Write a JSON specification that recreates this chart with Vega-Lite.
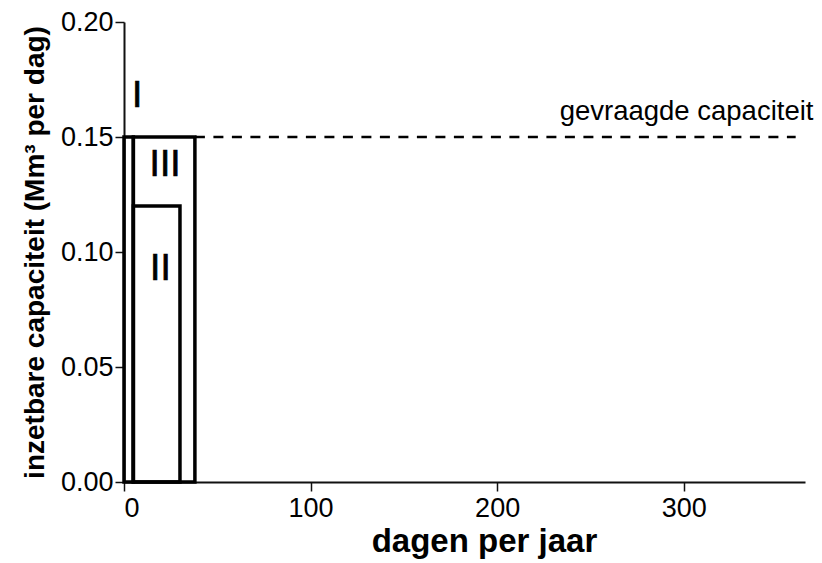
{
  "$schema": "https://vega.github.io/schema/vega-lite/v6.json",
  "width": 681,
  "height": 460,
  "autosize": {"type": "none"},
  "padding": {"left": 124, "top": 22, "right": 17, "bottom": 81},
  "background": "white",
  "config": {
    "view": {"stroke": null},
    "font": "Liberation Sans",
    "axis": {
      "grid": false,
      "domainColor": "#111",
      "domainWidth": 2,
      "tickColor": "#111",
      "tickWidth": 1.5,
      "tickSize": 9,
      "labelFont": "Liberation Sans",
      "labelFontSize": 27,
      "labelColor": "black",
      "titleFont": "Liberation Sans",
      "titleFontWeight": "bold",
      "titleColor": "black"
    }
  },
  "datasets": {
    "blocks": [
      {"blok": "III", "x0": 5, "x1": 38, "y0": 0, "y1": 0.15},
      {"blok": "II", "x0": 5, "x1": 30, "y0": 0, "y1": 0.12},
      {"blok": "I", "x0": 0, "x1": 5, "y0": 0, "y1": 0.15}
    ],
    "labels": [
      {"tekst": "I", "x": 7, "y": 0.168},
      {"tekst": "III", "x": 22, "y": 0.138},
      {"tekst": "II", "x": 19.5, "y": 0.0925}
    ],
    "demand": [
      {"x0": 38, "x1": 360, "y": 0.15, "tekst": "gevraagde capaciteit", "tx": 233.5, "ty": 0.1574}
    ]
  },
  "layer": [
    {
      "data": {"name": "blocks"},
      "mark": {"type": "rect", "fill": null, "fillOpacity": 0, "stroke": "black", "strokeWidth": 3.5, "clip": false},
      "encoding": {
        "x": {
          "field": "x0", "type": "quantitative",
          "scale": {"domain": [0, 365], "nice": false, "zero": true},
          "axis": {"values": [0, 100, 200, 300], "title": "dagen per jaar", "titleFontSize": 33, "titleX": 360, "titlePadding": 4, "labelPadding": 4}
        },
        "x2": {"field": "x1"},
        "y": {
          "field": "y0", "type": "quantitative",
          "scale": {"domain": [0, 0.2], "nice": false},
          "axis": {
            "values": [0, 0.05, 0.1, 0.15, 0.2],
            "format": ".2f",
            "title": "inzetbare capaciteit (Mm³ per dag)",
            "titleFontSize": 28,
            "titleX": -75,
            "titleY": 230,
            "titleBaseline": "bottom",
            "labelPadding": 2
          }
        },
        "y2": {"field": "y1"}
      }
    },
    {
      "data": {"name": "demand"},
      "mark": {"type": "rule", "stroke": "black", "strokeWidth": 2.5, "strokeDash": [10, 8.5]},
      "encoding": {
        "x": {"field": "x0", "type": "quantitative"},
        "x2": {"field": "x1"},
        "y": {"field": "y", "type": "quantitative"}
      }
    },
    {
      "data": {"name": "demand"},
      "mark": {"type": "text", "align": "left", "baseline": "alphabetic", "fontSize": 27.5, "font": "Liberation Sans", "color": "black", "clip": false},
      "encoding": {
        "x": {"field": "tx", "type": "quantitative"},
        "y": {"field": "ty", "type": "quantitative"},
        "text": {"field": "tekst"}
      }
    },
    {
      "data": {"name": "labels"},
      "mark": {"type": "text", "align": "center", "baseline": "middle", "fontSize": 37, "font": "Liberation Sans", "color": "black", "stroke": "black", "strokeWidth": 0.7},
      "encoding": {
        "x": {"field": "x", "type": "quantitative"},
        "y": {"field": "y", "type": "quantitative"},
        "text": {"field": "tekst"}
      }
    }
  ]
}
